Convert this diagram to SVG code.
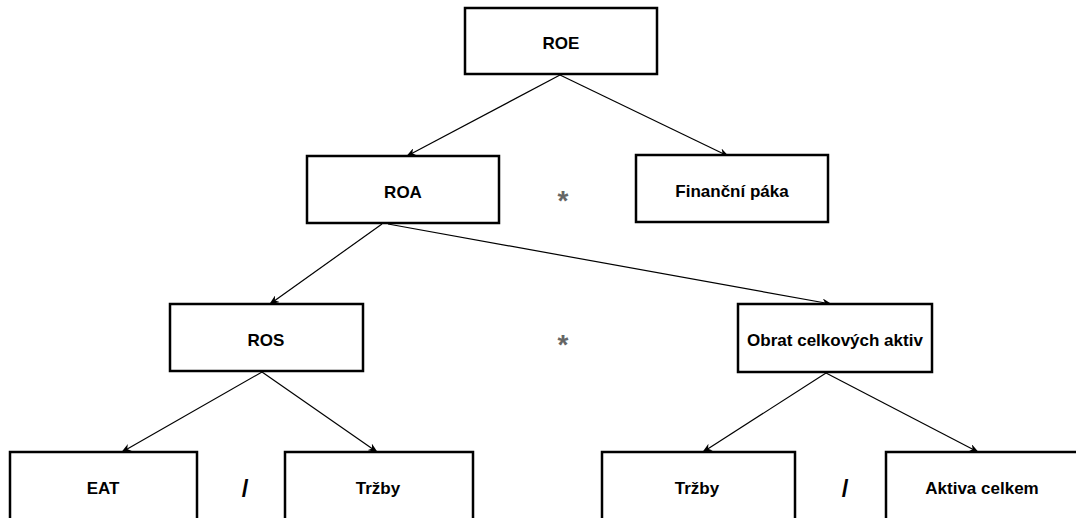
<svg xmlns="http://www.w3.org/2000/svg" width="1076" height="518" viewBox="0 0 1076 518">
<defs>
<marker id="ah" markerWidth="10" markerHeight="8" refX="9" refY="4" orient="auto" markerUnits="userSpaceOnUse">
<path d="M0,0 L10,4 L0,8 L3,4 Z" fill="#000"/>
</marker>
</defs>
<style>
.box{fill:#fff;stroke:#000;stroke-width:2.5}
.lbl{font-family:"Liberation Sans Narrow","Liberation Sans",Arial,sans-serif;font-weight:bold;font-size:17px;fill:#000;text-anchor:middle;dominant-baseline:central}
.op{font-family:"Liberation Sans",Arial,sans-serif;font-weight:bold;text-anchor:middle;dominant-baseline:central}
.ast{font-size:28px;fill:#666}
.sl{font-size:24px;fill:#000}
.con{stroke:#000;stroke-width:1.2;fill:none;marker-end:url(#ah)}
</style>
<rect width="1076" height="518" fill="#fff"/>
<g id="connectors">
<line class="con" x1="560" y1="75" x2="407" y2="156"/>
<line class="con" x1="560" y1="75" x2="728" y2="156"/>
<line class="con" x1="382" y1="224" x2="270" y2="304"/>
<line class="con" x1="388" y1="224" x2="831" y2="304"/>
<line class="con" x1="262" y1="372" x2="122" y2="452"/>
<line class="con" x1="262" y1="372" x2="377" y2="452"/>
<line class="con" x1="826" y1="373" x2="703" y2="452"/>
<line class="con" x1="826" y1="373" x2="978" y2="452"/>
</g>
<g id="roe"><rect class="box" x="465" y="8" width="192" height="66"/><text class="lbl" x="561" y="43">ROE</text></g>
<g id="roa"><rect class="box" x="307" y="156" width="192" height="67"/><text class="lbl" x="403" y="192">ROA</text></g>
<g id="fp"><rect class="box" x="636" y="155" width="192" height="67"/><text class="lbl" x="732" y="191">Finanční páka</text></g>
<g id="ros"><rect class="box" x="170" y="304" width="193" height="67"/><text class="lbl" x="266" y="340">ROS</text></g>
<g id="oca"><rect class="box" x="738" y="304" width="194" height="68"/><text class="lbl" x="835" y="340">Obrat celkových aktiv</text></g>
<g id="eat"><rect class="box" x="10" y="452" width="187" height="80"/><text class="lbl" x="103" y="488">EAT</text></g>
<g id="trzby1"><rect class="box" x="285" y="452" width="188" height="80"/><text class="lbl" x="378" y="488">Tržby</text></g>
<g id="trzby2"><rect class="box" x="602" y="452" width="193" height="80"/><text class="lbl" x="697" y="488">Tržby</text></g>
<g id="aktiva"><rect class="box" x="886" y="452" width="200" height="80"/><text class="lbl" x="982" y="488">Aktiva celkem</text></g>
<g id="ops">
<text class="op ast" x="563" y="200">*</text>
<text class="op ast" x="563" y="344">*</text>
<text class="op sl" x="245" y="488">/</text>
<text class="op sl" x="845" y="488">/</text>
</g>
</svg>
